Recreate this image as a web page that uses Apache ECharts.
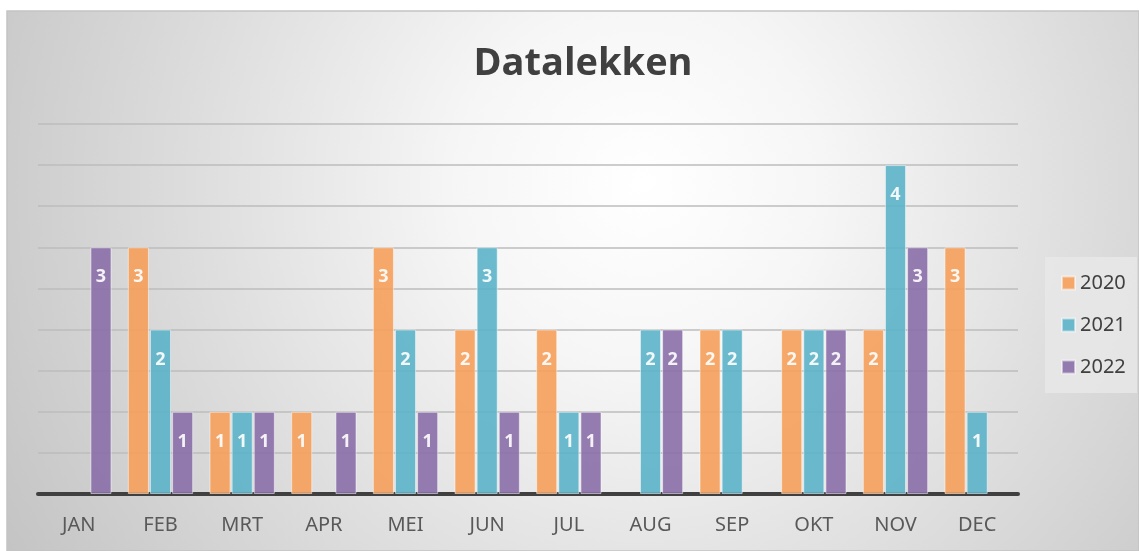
<!DOCTYPE html>
<html>
<head>
<meta charset="utf-8">
<script src="https://cdn.jsdelivr.net/npm/echarts@6/dist/echarts.min.js"></script>
<style>
  html, body { margin: 0; padding: 0; background: #ffffff; }
  #chart { width: 1139px; height: 551px; }
</style>
</head>
<body>
<div id="chart"></div>
<script>
// Monthly data breach counts per year
const months = ['JAN', 'FEB', 'MRT', 'APR', 'MEI', 'JUN', 'JUL', 'AUG', 'SEP', 'OKT', 'NOV', 'DEC'];
const years = ['2020', '2021', '2022'];
const values2020 = [null, 3, 1, 1, 3, 2, 2, null, 2, 2, 2, 3];
const values2021 = [null, 2, 1, null, 2, 3, 1, 2, 2, 2, 4, 1];
const values2022 = [3, 1, 1, 1, 1, 1, 1, 2, null, 2, 3, null];
const colors = ['#f5a05a', '#5bb2c9', '#8b6fa9'];

const chart = echarts.init(document.getElementById('chart'), null, { renderer: 'canvas' });

function barSeries(name, data, color) {
  return {
    name: name,
    type: 'bar',
    data: data,
    barGap: '5%',
    barCategoryGap: '20%',
    itemStyle: {
      color: color,
      opacity: 0.9,
      borderColor: 'rgba(255,255,255,0.55)',
      borderWidth: 1
    },
    label: {
      show: true,
      position: 'insideTop',
      distance: 21,
      color: '#ffffff',
      fontFamily: 'Open Sans',
      fontWeight: 'bold',
      fontSize: 18
    }
  };
}

chart.setOption({
  animation: false,
  backgroundColor: '#ffffff',
  graphic: [{
    type: 'rect',
    z: -10,
    silent: true,
    shape: { x: 7, y: 11, width: 1132, height: 540 },
    style: {
      fill: {
        type: 'radial', x: 0.56, y: 0.32, r: 1.35,
        colorStops: [
          { offset: 0, color: '#ffffff' },
          { offset: 0.25, color: '#f6f6f6' },
          { offset: 0.6, color: '#dedede' },
          { offset: 1, color: '#c4c4c4' }
        ]
      },
      stroke: '#c4c4c4',
      lineWidth: 1.5
    }
  }, {
    type: 'rect',
    z: -5,
    silent: true,
    shape: { x: 1045, y: 257, width: 92, height: 136 },
    style: { fill: 'rgba(232,232,232,0.85)' }
  }],
  title: {
    text: 'Datalekken',
    left: 578,
    textAlign: 'center',
    top: 40,
    textStyle: {
      fontFamily: 'Open Sans',
      fontWeight: 'bold',
      fontSize: 38,
      color: '#404040'
    }
  },
  legend: {
    data: years,
    orient: 'vertical',
    left: 1056,
    top: 268,
    itemGap: 22,
    itemWidth: 13,
    itemHeight: 13,
    icon: 'rect',
    textStyle: {
      fontFamily: 'Noto Sans',
      fontSize: 20,
      color: '#404040'
    }
  },
  grid: { left: 38, right: 121, top: 124, bottom: 57 },
  xAxis: {
    type: 'category',
    data: months,
    axisTick: { show: false },
    axisLine: { lineStyle: { color: '#404040', width: 4 } },
    axisLabel: {
      fontFamily: 'Noto Sans',
      fontSize: 20,
      color: '#595959',
      margin: 21
    }
  },
  yAxis: {
    type: 'value',
    min: 0,
    max: 4.5,
    interval: 0.5,
    axisLabel: { show: false },
    axisLine: { show: false },
    axisTick: { show: false },
    splitLine: { lineStyle: { color: '#bdbdbd', width: 1.5 } }
  },
  series: [
    barSeries(years[0], values2020, colors[0]),
    barSeries(years[1], values2021, colors[1]),
    barSeries(years[2], values2022, colors[2])
  ]
});
</script>
</body>
</html>
